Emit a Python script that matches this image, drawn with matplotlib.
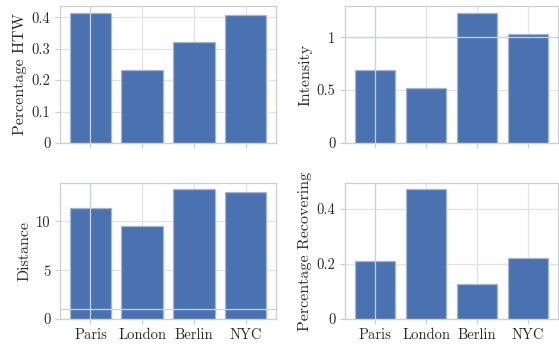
import matplotlib
matplotlib.use("Agg")
import matplotlib.pyplot as plt
from matplotlib.ticker import FuncFormatter

cities = ["Paris", "London", "Berlin", "NYC"]
pct_htw = [0.415, 0.2325, 0.32, 0.4075]
intensity = [0.693, 0.519, 1.234, 1.035]
distance = [11.36, 9.49, 13.28, 13.0]
pct_recovering = [0.210, 0.471, 0.127, 0.2236]

BAR = "#4a72b0"
EDGE = "#a3b6d8"
GRID = "#e3e3e3"
SPINE = "#cfcfcf"

plt.rcParams.update({
    "font.family": "cmr10",
    "mathtext.fontset": "cm",
    "axes.formatter.use_mathtext": True,
    "font.size": 11,
    "axes.edgecolor": SPINE,
    "axes.linewidth": 0.9,
    "xtick.color": SPINE,
    "ytick.color": SPINE,
    "xtick.labelcolor": "#2a2a2a",
    "ytick.labelcolor": "#2a2a2a",
    "axes.labelcolor": "#2a2a2a",
    "xtick.major.size": 3.5,
    "ytick.major.size": 3.5,
    "xtick.major.width": 0.9,
    "ytick.major.width": 0.9,
})

fig = plt.figure(figsize=(5.59, 3.47), dpi=100)
W, H = 559, 347
boxes = [(60, 6, 276, 143), (345, 6, 558, 143), (60, 183, 276, 319), (345, 183, 558, 319)]
panels = [
    (pct_htw, "Percentage HTW", [0, 0.1, 0.2, 0.3, 0.4]),
    (intensity, "Intensity", [0, 0.5, 1]),
    (distance, "Distance", [0, 5, 10]),
    (pct_recovering, "Percentage Recovering", [0, 0.2, 0.4]),
]

fmt = FuncFormatter(lambda v, p: f"{v:g}")
for i, ((x0, y0, x1, y1), (vals, label, yt)) in enumerate(zip(boxes, panels)):
    ax = fig.add_axes([x0 / W, 1 - y1 / H, (x1 - x0) / W, (y1 - y0) / H])
    ax.set_axisbelow(True)
    ax.grid(True, color=GRID, linewidth=0.9)
    xs = range(len(cities))
    ax.bar(xs, vals, width=0.8, color=BAR, edgecolor=EDGE, linewidth=0.9)
    ax.set_yticks(yt)
    ax.yaxis.set_major_formatter(fmt)
    ax.set_xticks(list(xs))
    if i >= 2:
        ax.set_xticklabels(cities)
    else:
        ax.set_xticklabels([])
    ax.set_ylabel(label, fontsize=11.5, labelpad=3)
    ax.tick_params(labelsize=10.5)
    lo, hi = ax.get_ylim()
    # a couple of grid lines end up drawn over the bars in the original
    ax.axvline(0, color="#c9d2e3", linewidth=0.9, zorder=3)
    if hi > 1:
        ax.axhline(1, color="#c9d2e3", linewidth=0.9, zorder=3)
    ax.set_ylim(lo, hi)

fig.savefig("out.png", dpi=100)
